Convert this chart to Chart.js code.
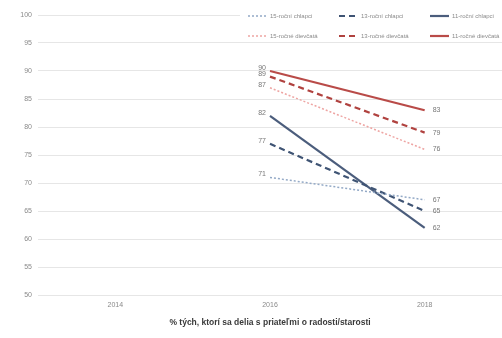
<!DOCTYPE html>
<html>
<head>
<meta charset="utf-8">
<script src="https://cdn.jsdelivr.net/npm/chart.js@4.4.0/dist/chart.umd.min.js"></script>
<style>
  html, body { margin: 0; padding: 0; background: #fff; }
  #wrap { width: 502px; height: 338px; }
</style>
</head>
<body>
<div id="wrap"><canvas id="chart"></canvas></div>
<script>
// Data
const years = ['2014', '2016', '2018'];
const boys15 = [null, 71, 67];
const boys13 = [null, 77, 65];
const boys11 = [null, 82, 62];
const girls15 = [null, 87, 76];
const girls13 = [null, 89, 79];
const girls11 = [null, 90, 83];
const seriesNames = ['15-roční chlapci', '13-roční chlapci', '11-roční chlapci',
                     '15-ročné dievčatá', '13-ročné dievčatá', '11-ročné dievčatá'];

function line(label, data, color, dash, width) {
    return {
        label: label,
        data: data,
        borderColor: color,
        backgroundColor: color,
        borderDash: dash,
        borderWidth: width,
        pointRadius: 0,
        tension: 0,
        spanGaps: false
    };
}

// value labels next to the points
const valueLabels = {
    id: 'valueLabels',
    afterDatasetsDraw(chart) {
        const ctx = chart.ctx;
        ctx.save();
        ctx.font = '7px "Liberation Sans", Arial, sans-serif';
        ctx.fillStyle = '#777';
        ctx.textBaseline = 'middle';
        chart.data.datasets.forEach((ds, i) => {
            const meta = chart.getDatasetMeta(i);
            meta.data.forEach((pt, j) => {
                const v = ds.data[j];
                if (v === null) return;
                if (j === 1) {
                    ctx.textAlign = 'right';
                    ctx.fillText(v, pt.x - 4, pt.y - 3);
                } else {
                    ctx.textAlign = 'left';
                    ctx.fillText(v, pt.x + 8, pt.y);
                }
            });
        });
        ctx.restore();
    }
};

// two-row legend in the top right corner
const gridLegend = {
    id: 'gridLegend',
    afterDraw(chart) {
        const ctx = chart.ctx;
        const cols = [248, 339, 430];
        const rows = [16, 36];
        ctx.save();
        ctx.fillStyle = '#fff';
        ctx.fillRect(240, 6, 262, 35);
        ctx.font = '6px "Liberation Sans", Arial, sans-serif';
        ctx.textBaseline = 'middle';
        ctx.textAlign = 'left';
        chart.data.datasets.forEach((ds, i) => {
            const x = cols[i % 3];
            const y = rows[Math.floor(i / 3)];
            ctx.strokeStyle = ds.borderColor;
            ctx.lineWidth = ds.borderWidth;
            ctx.setLineDash(ds.borderDash);
            ctx.beginPath();
            ctx.moveTo(x, y);
            ctx.lineTo(x + 19, y);
            ctx.stroke();
            ctx.setLineDash([]);
            ctx.fillStyle = '#8a8a8a';
            ctx.fillText(ds.label, x + 22, y);
        });
        ctx.restore();
    }
};

new Chart(document.getElementById('chart'), {
    type: 'line',
    data: {
        labels: years,
        datasets: [
            line(seriesNames[0], boys15, '#93a9c6', [2, 2], 1.5),
            line(seriesNames[1], boys13, '#3f5474', [6, 4], 2.2),
            line(seriesNames[2], boys11, '#4b5d7c', [], 2.2),
            line(seriesNames[3], girls15, '#eea5a3', [2, 2], 1.5),
            line(seriesNames[4], girls13, '#b0423f', [6, 4], 2.2),
            line(seriesNames[5], girls11, '#b94b48', [], 2.2)
        ]
    },
    options: {
        responsive: true,
        maintainAspectRatio: false,
        animation: false,
        layout: { padding: { top: 15, right: 0, bottom: 0, left: 0 } },
        plugins: {
            legend: { display: false },
            tooltip: { enabled: false }
        },
        scales: {
            x: {
                offset: true,
                grid: { display: false, drawTicks: false },
                border: { display: false },
                ticks: {
                    color: '#8a8a8a',
                    padding: 6,
                    font: { size: 7, family: '"Liberation Sans", Arial, sans-serif' }
                },
                title: {
                    display: true,
                    text: '% tých, ktorí sa delia s priateľmi o radosti/starosti',
                    color: '#3a3a3a',
                    padding: { top: 0, bottom: 10 },
                    font: { size: 8.5, weight: 'bold', family: '"Liberation Sans", Arial, sans-serif' }
                },
                afterFit(scale) { scale.height = 43; }
            },
            y: {
                min: 50,
                max: 100,
                grid: { color: '#e6e6e6', drawTicks: false },
                border: { display: false },
                ticks: {
                    stepSize: 5,
                    color: '#8a8a8a',
                    padding: 6,
                    font: { size: 7, family: '"Liberation Sans", Arial, sans-serif' }
                },
                afterFit(scale) { scale.width = 38; }
            }
        }
    },
    plugins: [valueLabels, gridLegend]
});
</script>
</body>
</html>
